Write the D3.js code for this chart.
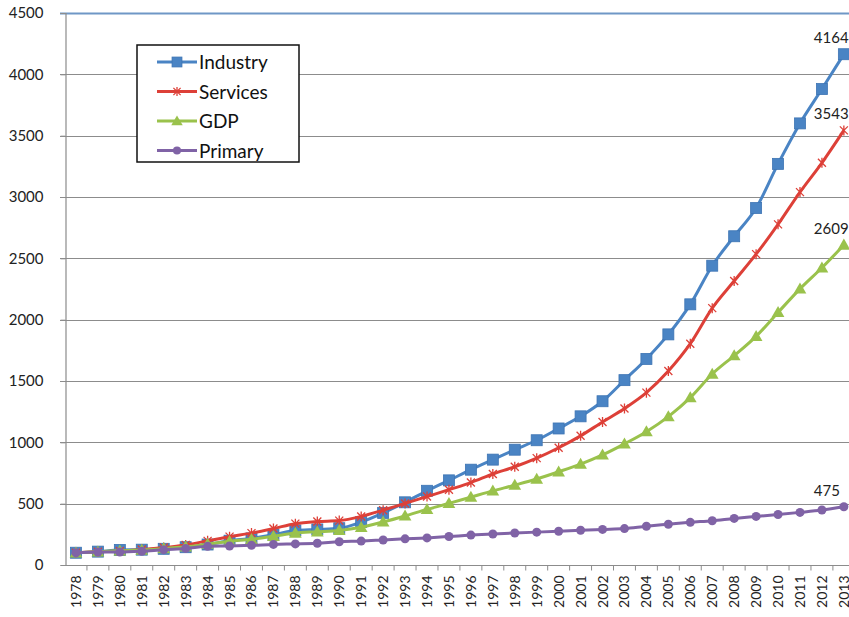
<!DOCTYPE html>
<html>
<head>
<meta charset="utf-8">
<script src="https://cdn.jsdelivr.net/npm/d3@7"></script>
<style>
  body { margin: 0; background: #fff; }
  svg { display: block; font-family: Lato, "Open Sans", sans-serif; }
</style>
</head>
<body>
<svg id="chart" width="849" height="617"></svg>
<script>
// Years on the x axis
const years = d3.range(1978, 2014).map(String);

// Index values (1978 = 100)
const industry = [100, 109, 123, 125, 132, 145, 167, 198, 217, 246, 282, 290, 300, 350, 425, 511, 605, 690, 777, 859,
  940, 1017, 1113, 1212, 1335, 1507, 1680, 1880, 2125, 2440, 2680, 2910, 3270, 3600, 3880, 4164];
const services = [100, 108, 114, 126, 142, 164, 197, 231, 260, 297, 337, 354, 362, 396, 447, 502, 558, 614, 672, 742,
  801, 871, 956, 1053, 1166, 1276, 1405, 1581, 1804, 2094, 2315, 2534, 2777, 3040, 3279, 3543];
const gdp = [100, 108, 116, 122, 133, 148, 170, 193, 210, 234, 261, 271, 282, 308, 351, 400, 453, 502, 553, 604,
  651, 701, 760, 823, 898, 988, 1087, 1210, 1364, 1557, 1707, 1864, 2059, 2251, 2423, 2609];
const primary = [100, 106, 105, 112, 125, 135, 152, 155, 160, 168, 172, 177, 190, 195, 204, 213, 221, 232, 244, 253,
  261, 268, 275, 283, 290, 297, 316, 332, 348, 361, 380, 396, 412, 429, 448, 475];

const yTicks = [0, 500, 1000, 1500, 2000, 2500, 3000, 3500, 4000, 4500];

const seriesList = [
  { name: "Industry", values: industry, color: "#4a84c4", marker: "square" },
  { name: "Services", values: services, color: "#dd4038", marker: "star" },
  { name: "GDP", values: gdp, color: "#9ac24c", marker: "triangle" },
  { name: "Primary", values: primary, color: "#8063a6", marker: "circle" }
];

const svg = d3.select("#chart");
const plotLeft = 65, plotTop = 13, plotBottom = 565;

const x = d3.scaleBand()
  .domain(years)
  .range([plotLeft, plotLeft + 36 * 21.94]);

const y = d3.scaleLinear()
  .domain([0, 4500])
  .range([plotBottom, plotTop]);

// Gridlines
svg.append("g")
  .selectAll("line")
  .data(yTicks.filter(d => d > 0))
  .enter().append("line")
  .attr("x1", plotLeft - 5)
  .attr("x2", 849)
  .attr("y1", d => Math.round(y(d)) + 0.5)
  .attr("y2", d => Math.round(y(d)) + 0.5)
  .attr("stroke", d => d === 4500 ? "#6f97c6" : "#8c8c8c")
  .attr("stroke-width", d => d === 4500 ? 2 : 1.2);

// Y axis
const yAxis = svg.append("g")
  .attr("transform", `translate(${plotLeft + 0.5}, 0)`)
  .call(d3.axisLeft(y).tickValues(yTicks).tickFormat(d3.format("d")).tickSize(5).tickPadding(17));
yAxis.select(".domain").attr("stroke", "#8c8c8c").attr("stroke-width", 1.2);
yAxis.selectAll(".tick line").attr("stroke", "#8c8c8c");
yAxis.selectAll("text")
  .style("font-size", "15px")
  .style("font-family", "Lato, sans-serif")
  .attr("fill", "#222");

// X axis, ticks between categories
const xAxisG = svg.append("g")
  .attr("transform", `translate(0, ${Math.round(plotBottom) + 0.5})`);
xAxisG.append("line")
  .attr("x1", plotLeft).attr("x2", 849)
  .attr("stroke", "#8c8c8c").attr("stroke-width", 1.2);
xAxisG.selectAll(".sep")
  .data(years)
  .enter().append("line")
  .attr("class", "sep")
  .attr("x1", d => x(d) + x.bandwidth())
  .attr("x2", d => x(d) + x.bandwidth())
  .attr("y1", 0).attr("y2", 5)
  .attr("stroke", "#8c8c8c");
xAxisG.selectAll(".lbl")
  .data(years)
  .enter().append("text")
  .attr("class", "lbl")
  .attr("transform", d => `translate(${x(d) + x.bandwidth() / 2 + 5}, 10) rotate(-90)`)
  .attr("text-anchor", "end")
  .style("font-size", "14px")
  .attr("fill", "#222")
  .text(d => d);

// Lines and markers
const line = d3.line()
  .x((d, i) => x(years[i]) + x.bandwidth() / 2)
  .y(d => y(d))
  .curve(d3.curveMonotoneX);

function drawMarker(g, type, color, cx, cy, scale) {
  const s = scale || 1;
  if (type === "square") {
    g.append("rect")
      .attr("x", cx - 5.5 * s).attr("y", cy - 5.5 * s)
      .attr("width", 11 * s).attr("height", 11 * s)
      .attr("fill", color).attr("stroke", "#3d74b3").attr("stroke-width", 0.8);
  } else if (type === "triangle") {
    g.append("path")
      .attr("d", d3.symbol(d3.symbolTriangle, 70 * s * s)())
      .attr("transform", `translate(${cx}, ${cy + 1})`)
      .attr("fill", color);
  } else if (type === "circle") {
    g.append("circle")
      .attr("cx", cx).attr("cy", cy).attr("r", 4.5 * s)
      .attr("fill", color);
  } else {
    g.append("path")
      .attr("d", `M${cx - 4 * s},${cy - 4 * s}L${cx + 4 * s},${cy + 4 * s}M${cx - 4 * s},${cy + 4 * s}L${cx + 4 * s},${cy - 4 * s}M${cx},${cy - 5 * s}L${cx},${cy + 5 * s}`)
      .attr("stroke", color).attr("stroke-width", 1.3).attr("fill", "none");
  }
}

seriesList.forEach(s => {
  const g = svg.append("g");
  g.append("path")
    .datum(s.values)
    .attr("d", line)
    .attr("fill", "none")
    .attr("stroke", s.color)
    .attr("stroke-width", 3);
  s.values.forEach((v, i) => {
    drawMarker(g, s.marker, s.color, x(years[i]) + x.bandwidth() / 2, y(v));
  });
  // label on the last point
  const last = s.values[s.values.length - 1];
  g.append("text")
    .attr("x", x(years[years.length - 1]) + x.bandwidth() / 2 - 30)
    .attr("y", y(last) - 11)
    .style("font-size", "15px")
    .attr("fill", "#222")
    .text(last);
});

// Legend
const legend = svg.append("g").attr("transform", "translate(137, 45)");
legend.append("rect")
  .attr("width", 162).attr("height", 117)
  .attr("fill", "#fff").attr("stroke", "#111").attr("stroke-width", 1.5);
seriesList.forEach((s, i) => {
  const ly = 17 + i * 29.5;
  legend.append("line")
    .attr("x1", 20).attr("x2", 60)
    .attr("y1", ly).attr("y2", ly)
    .attr("stroke", s.color).attr("stroke-width", 3);
  drawMarker(legend, s.marker, s.color, 40, ly, 0.9);
  legend.append("text")
    .attr("x", 62).attr("y", ly + 7)
    .style("font-size", "19px")
    .attr("fill", "#111")
    .text(s.name);
});
</script>
</body>
</html>
